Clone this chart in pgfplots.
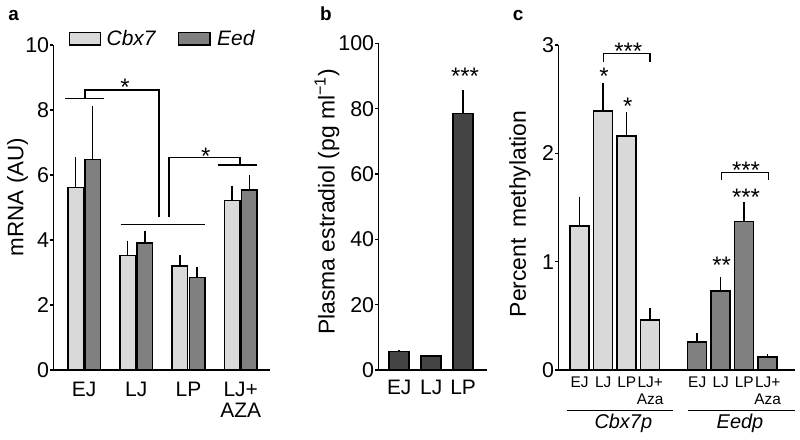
\documentclass[border=0pt]{standalone}
\usepackage{pgfplots}
\pgfplotsset{compat=1.18}
\usepackage{fontspec}
\setmainfont{Liberation Sans}
\definecolor{lg}{RGB}{217,217,217}
\definecolor{mg}{RGB}{128,128,128}
\definecolor{dg}{RGB}{68,68,68}
\pgfplotsset{
  panel/.style={
    scale only axis, anchor=south west, ymin=0,
    axis lines=left, axis line style={-, line width=1.3bp, black},
    tick align=outside, major tick length=3bp,
    xtick style={draw=none},
    ytick style={line width=1.2bp, black},
    /pgf/number format/assume math mode=true,
    yticklabel style={font=\fontsize{21.5}{21.5}\selectfont, inner sep=1bp},
    clip=false,
  },
  bars/.style={ybar, mark=none, draw=black, line width=1.5bp, bar shift=0bp,
    error bars/y dir=plus, error bars/y explicit, error bars/error mark=none,
    error bars/error bar style={line width=1.5bp, black}},
}
\newcommand{\fs}[1]{\fontsize{#1}{#1}\selectfont}
\begin{document}
\begin{tikzpicture}[x=1bp,y=1bp]
\useasboundingbox (0,0) rectangle (800,440);
% ---------------- panel a
\begin{axis}[panel, at={(53.3bp,70bp)}, width=216.7bp, height=325bp,
  xmin=-0.588, xmax=3.56, ymax=10, ytick={0,2,...,10},
  xtick={0,1,2,3}, xticklabels={EJ,LJ,LP,{LJ+\\AZA}},
  xticklabel style={align=center, font=\fontsize{21}{21}\selectfont, yshift=-6bp}]
\addplot[bars, bar width=15.5bp, fill=lg] coordinates
  {(-0.163,5.61) +- (0,0.95) (0.837,3.52) +- (0,0.46) (1.837,3.20) +- (0,0.34) (2.837,5.21) +- (0,0.46)};
\addplot[bars, bar width=15.5bp, fill=mg] coordinates
  {(0.163,6.48) +- (0,1.64) (1.163,3.91) +- (0,0.38) (2.163,2.85) +- (0,0.33) (3.163,5.54) +- (0,0.46)};
\end{axis}
% ---------------- panel b
\begin{axis}[panel, at={(378.3bp,70bp)}, width=108.4bp, height=326.7bp,
  xmin=-0.656, xmax=2.74, ymax=100, ytick={0,20,...,100},
  xtick={0,1,2}, xticklabels={EJ,LJ,LP},
  xticklabel style={font=\fontsize{21}{22}\selectfont, yshift=-4bp}]
\addplot[bars, bar width=20bp, fill=dg] coordinates
  {(0,5.6) +- (0,0.5) (1,4.3) +- (0,0) (2,78.5) +- (0,7.1)};
\end{axis}
% ---------------- panel c
\begin{axis}[panel, at={(558.3bp,70bp)}, width=236.7bp, height=325bp,
  xmin=-0.91, xmax=9.16, ymax=3, ytick={0,1,2,3},
  xtick={0,1,2,3,5,6,7,8},
  xticklabels={EJ,LJ,LP,{LJ+\\Aza},EJ,LJ,LP,{LJ+\\Aza}},
  xticklabel style={align=center, font=\fontsize{15.5}{17}\selectfont, yshift=0bp}]
\addplot[bars, bar width=19bp, fill=lg] coordinates
  {(0,1.33) +- (0,0.27) (1,2.39) +- (0,0.26) (2,2.16) +- (0,0.22) (3,0.46) +- (0,0.11)};
\addplot[bars, bar width=19bp, fill=mg] coordinates
  {(5,0.26) +- (0,0.08) (6,0.73) +- (0,0.13) (7,1.37) +- (0,0.18) (8,0.12) +- (0,0.025)};
\end{axis}
% ---------------- annotations
\begin{scope}[line width=1.4bp]
% panel a
\draw (65,341.7) -- (104,341.7);
\draw (85,341.7) -- (85,350) -- (159,350) -- (159,223.3);
\draw (120.7,215.3) -- (205,215.3);
\draw (169,223.3) -- (169,282.7) -- (240,282.7) -- (240,275);
\draw (218.3,275) -- (257.3,275);
% panel c
\draw (603.3,378.3) -- (603.3,386.7) -- (650,386.7) -- (650,378.3);
\draw (721.7,260) -- (721.7,267.3) -- (768.3,267.3) -- (768.3,260);
\draw (566.7,29.3) -- (673.3,29.3);
\draw (688.3,29.3) -- (795,29.3);
\end{scope}
\begin{scope}[every node/.style={inner sep=0pt, font=\fs{24}}]
\node[anchor=north] at (125,360.7) {*};
\node[anchor=north] at (205.7,291.7) {*};
\node[anchor=north] at (465,371.7) {***};
\node[anchor=north] at (628.3,396.7) {***};
\node[anchor=north] at (604,371.7) {*};
\node[anchor=north] at (627.7,341.7) {*};
\node[anchor=north] at (746,277.7) {***};
\node[anchor=north] at (746,251) {***};
\node[anchor=north] at (721.7,183.3) {**};
\end{scope}
% group labels
\node[anchor=base, inner sep=0pt, font=\fs{20}\itshape] at (623.3,11.7) {Cbx7p};
\node[anchor=base, inner sep=0pt, font=\fs{20}\itshape] at (740,11.7) {Eedp};
% legend
\draw[fill=lg, line width=1.2bp] (69.3,395) rectangle (100.7,407.7);
\node[anchor=base west, inner sep=0pt, font=\fs{21}\itshape] at (106.5,394.3) {Cbx7};
\draw[fill=mg, line width=1.2bp] (178.3,395) rectangle (210,407.7);
\node[anchor=base west, inner sep=0pt, font=\fs{21}\itshape] at (217,394.3) {Eed};
% y labels
\node[rotate=90, inner sep=0pt, font=\fs{22.5}] at (17.5,243) {mRNA (AU)};
\node[rotate=90, inner sep=0pt, font=\fs{23}] at (327,238) {Plasma estradiol (pg ml\textsuperscript{\char"2212 1})};
\node[rotate=90, inner sep=0pt, font=\fs{23}] at (520,226) {Percent\hspace{0.45em}methylation};
% panel letters
\node[anchor=base west, inner sep=0pt, font=\fs{19}\bfseries] at (8.3,419.3) {a};
\node[anchor=base west, inner sep=0pt, font=\fs{19}\bfseries] at (320,419.3) {b};
\node[anchor=base west, inner sep=0pt, font=\fs{19}\bfseries] at (512.7,419.3) {c};
\end{tikzpicture}
\end{document}
